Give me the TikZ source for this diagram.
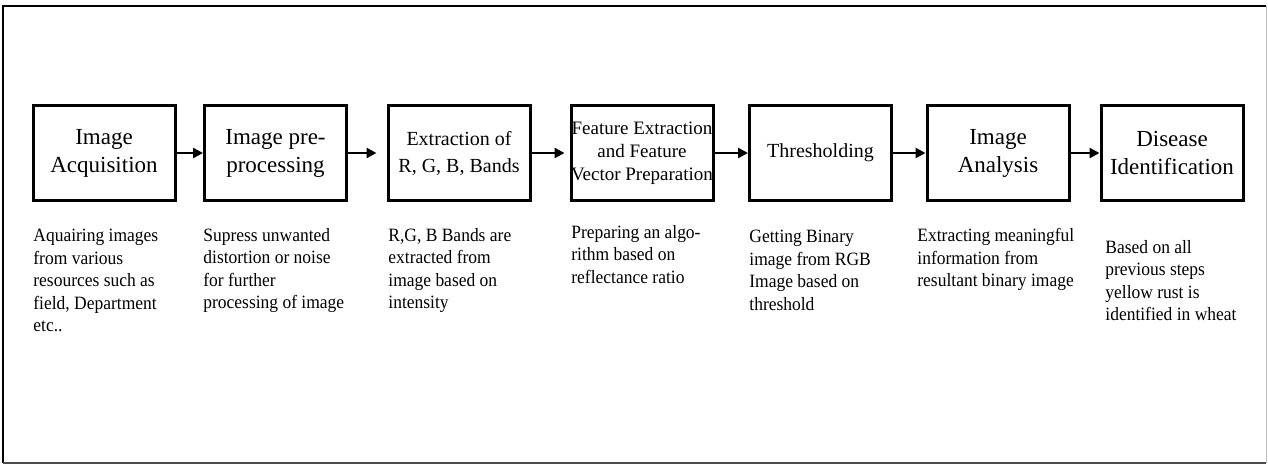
\documentclass[tikz,border=0pt]{standalone}
\usepackage{fontspec}
\setmainfont{Liberation Serif}
\newfontfamily\notefont[FakeStretch=0.93]{Liberation Serif}
\usetikzlibrary{arrows.meta,positioning}

\tikzset{
  stage/.style={draw, line width=1.5pt, minimum width=71pt, minimum height=47.5pt,
    inner sep=0pt, align=center, font=\fontsize{11.5}{14}\selectfont},
  note/.style={anchor=north west, inner sep=0pt, align=left,
    font=\notefont\fontsize{9.4}{11.25}\selectfont},
  flow/.style={line width=1.4pt, -{Triangle[length=5pt,width=5pt]}}
}

\begin{document}
\begin{tikzpicture}[x=0.5pt,y=-0.5pt]

  \useasboundingbox (0,0) rectangle (1268,466);

  % outer frame
  \draw[line width=1.3pt] (3,463) -- (3,6) -- (1266,6);
  \draw[black!70,line width=0.8pt] (3,463) -- (1266,463);
  \draw[black!25,line width=0.5pt] (1266,6) -- (1266,463);

  % stages
  \node[stage] (acq) at (104,153) {Image\\Acquisition};
  \node[stage] (pre) at (275.5,153) {Image pre-\\processing};
  \node[stage,font=\fontsize{10}{13.5}\selectfont] (rgb) at (459,153) {Extraction of\\R, G, B, Bands};
  \node[stage,font=\fontsize{9.5}{11.5}\selectfont] (feat) at (642,153) {Feature Extraction\\and Feature\\Vector Preparation};
  \node[stage,font=\fontsize{10}{13.5}\selectfont] (thr) at (820.5,153) {Thresholding};
  \node[stage] (ana) at (998,153) {Image\\Analysis};
  \node[stage] (dis) at (1172,153) {Disease\\Identification};

  % arrows
  \draw[flow] (acq) -- (pre);
  \draw[flow,shorten >=5pt] (pre) -- (rgb);
  \draw[flow,shorten >=2.5pt] (rgb) -- (feat);
  \draw[flow] (feat) -- (thr);
  \draw[flow] (thr) -- (ana);
  \draw[flow] (ana) -- (dis);

  % descriptions
  \node[note] (acqtxt) at (33,229) {Aquairing images\\from various\\resources such as\\field, Department\\etc..};
  \node[note] (pretxt) at (203,228) {Supress unwanted\\distortion or noise\\for further\\processing of image};
  \node[note] (rgbtxt) at (388,228) {R,G, B Bands are\\extracted from\\image based on\\intensity};
  \node[note] (feattxt) at (571,225) {Preparing an algo-\\rithm based on\\reflectance ratio};
  \node[note] (thrtxt) at (749,230) {Getting Binary\\image from RGB\\Image based on\\threshold};
  \node[note] (anatxt) at (917,228) {Extracting meaningful\\information from\\resultant binary image};
  \node[note] (distxt) at (1105,240) {Based on all\\previous steps\\yellow rust is\\identified in wheat};

\end{tikzpicture}
\end{document}
